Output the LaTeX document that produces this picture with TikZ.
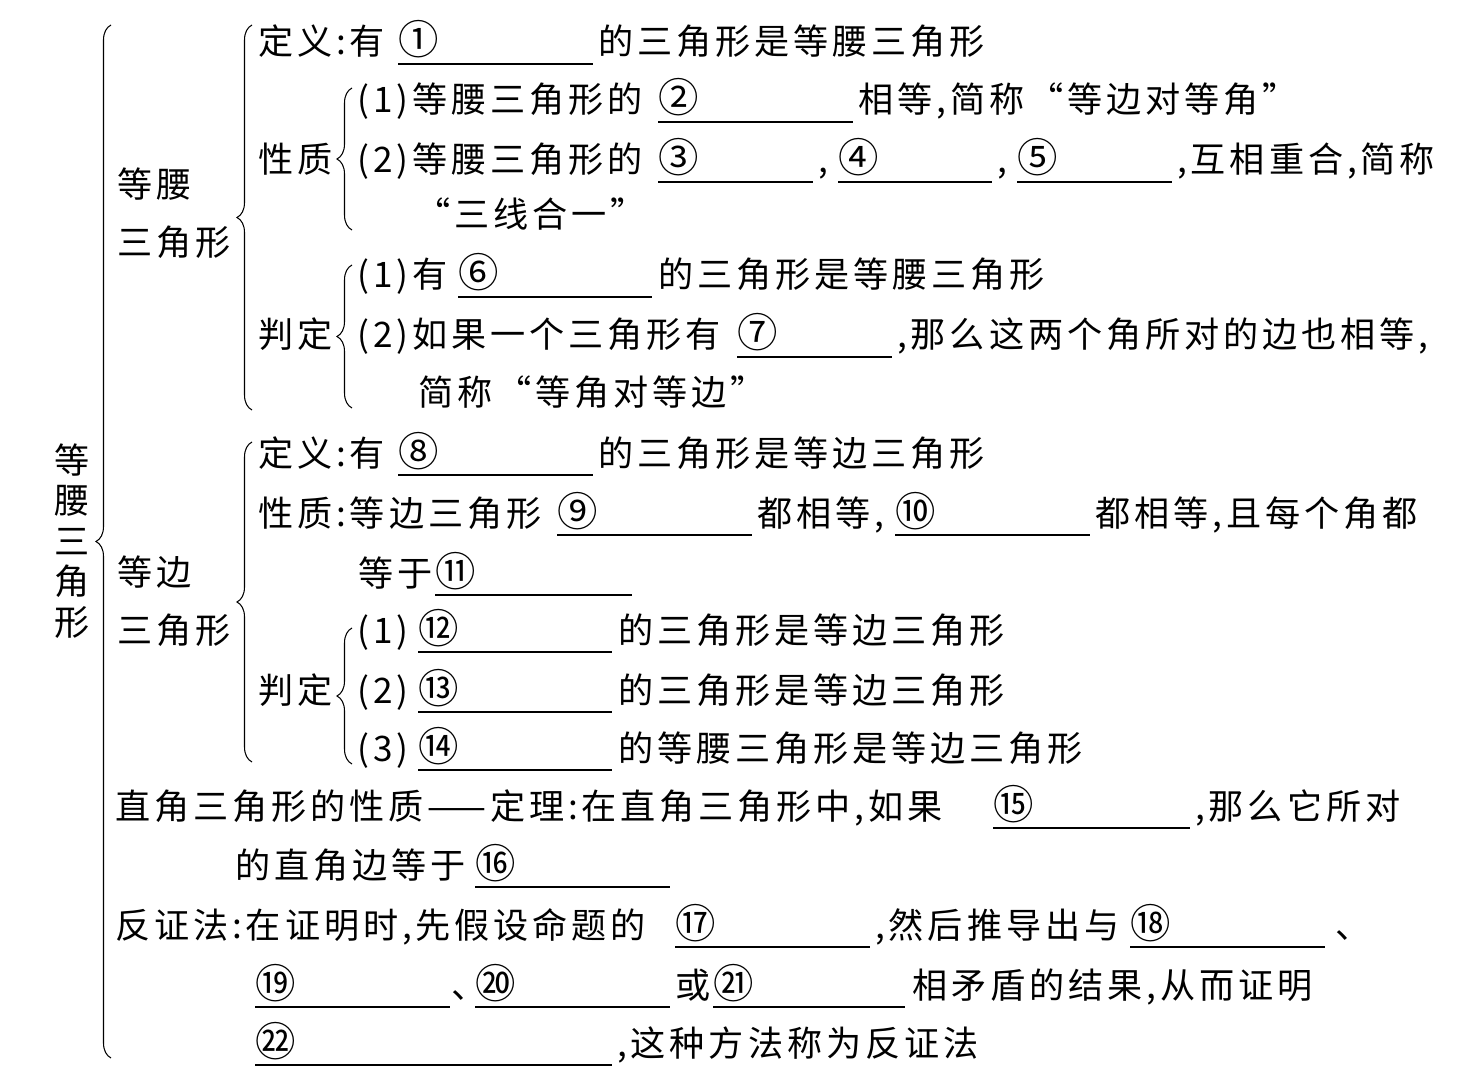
\documentclass[tikz,border=0pt]{standalone}
\usepackage{fontspec}
\setmainfont{Noto Sans CJK SC}[LetterSpace=11]
\usepackage{tikz}
\usetikzlibrary{decorations.pathreplacing}
% one blank: circled number over an underline
\newcommand{\fillin}[5]{%
  \node[num] (#1) at (#2,#4) {#5};
  \draw[blank] (#2,#4+9) -- (#3,#4+9);}

\begin{document}
\begin{tikzpicture}[
  x=0.02cm, y=-0.02cm,
  txt/.style={anchor=base west, inner sep=0pt, font=\fontsize{20}{24}\selectfont},
  num/.style={txt, font=\fontsize{23}{24}\selectfont},
  blank/.style={line width=0.8pt},
  brc/.style={decorate, decoration={brace, amplitude=0.3cm}, line width=0.6pt}
]
\useasboundingbox (0,0) rectangle (1465,1081);
% braces
\draw[brc] (111,1058) -- (111,25);
\draw[brc] (252,410) -- (252,25);
\draw[brc] (352,230) -- (352,88);
\draw[brc] (352,408) -- (352,265);
\draw[brc] (252,762) -- (252,442);
\draw[brc] (352,764) -- (352,628);
% title
\foreach \ch [count=\i] in {等,腰,三,角,形}
  \node[txt, anchor=base] (v\i) at (72,{473+40.5*(\i-1)}) {\ch};
% 等腰三角形
\node[txt] (yb1) at (117,198) {等腰};
\node[txt] (yb2) at (117,256) {三角形};
\node[txt] (d1) at (258,55) {定义:有};
\fillin{c1}{398}{593}{55}{①}
\node[txt] (d1b) at (598,55) {的三角形是等腰三角形};
\node[txt] (p1) at (258,173) {性质};
\node[txt] (p1a) at (357,113) {(1)等腰三角形的};
\fillin{c2}{658}{853}{113}{②}
\node[txt] (p1b) at (858,113) {相等,简称“等边对等角”};
\node[txt] (p2a) at (357,173) {(2)等腰三角形的};
\fillin{c3}{658}{813}{173}{③}
\node[txt] (p2b) at (818,173) {,};
\fillin{c4}{838}{992}{173}{④}
\node[txt] (p2c) at (997,173) {,};
\fillin{c5}{1017}{1172}{173}{⑤}
\node[txt] (p2d) at (1177,173) {,互相重合,简称};
\node[txt] (p2e) at (415,228) {“三线合一”};
\node[txt] (j1) at (258,348) {判定};
\node[txt] (j1a) at (357,288) {(1)有};
\fillin{c6}{458}{652}{288}{⑥}
\node[txt] (j1b) at (658,288) {的三角形是等腰三角形};
\node[txt] (j2a) at (357,348) {(2)如果一个三角形有};
\fillin{c7}{737}{892}{348}{⑦}
\node[txt] (j2b) at (897,348) {,那么这两个角所对的边也相等,};
\node[txt] (j2c) at (418,406) {简称“等角对等边”};
% 等边三角形
\node[txt] (db1) at (117,585) {等边};
\node[txt] (db2) at (117,643) {三角形};
\node[txt] (d2) at (258,466) {定义:有};
\fillin{c8}{398}{593}{466}{⑧}
\node[txt] (d2b) at (598,466) {的三角形是等边三角形};
\node[txt] (p3a) at (258,526) {性质:等边三角形};
\fillin{c9}{557}{752}{526}{⑨}
\node[txt] (p3b) at (757,526) {都相等,};
\fillin{c10}{895}{1090}{526}{⑩}
\node[txt] (p3c) at (1095,526) {都相等,且每个角都};
\node[txt] (p3d) at (358,586) {等于};
\fillin{c11}{435}{632}{586}{⑪}
\node[txt] (j3) at (258,703) {判定};
\node[txt] (j3a) at (357,643) {(1)};
\fillin{c12}{418}{612}{643}{⑫}
\node[txt] (j3b) at (618,643) {的三角形是等边三角形};
\node[txt] (j4a) at (357,703) {(2)};
\fillin{c13}{418}{612}{703}{⑬}
\node[txt] (j4b) at (618,703) {的三角形是等边三角形};
\node[txt] (j5a) at (357,761) {(3)};
\fillin{c14}{418}{612}{761}{⑭}
\node[txt] (j5b) at (618,761) {的等腰三角形是等边三角形};
% 直角三角形
\node[txt] (r1a) at (115,819) {直角三角形的性质——定理:在直角三角形中,如果};
\fillin{c15}{993}{1190}{819}{⑮}
\node[txt] (r1b) at (1195,819) {,那么它所对};
\node[txt] (r1c) at (235,878) {的直角边等于};
\fillin{c16}{475}{670}{878}{⑯}
% 反证法
\node[txt] (f1a) at (115,938) {反证法:在证明时,先假设命题的};
\fillin{c17}{675}{870}{938}{⑰}
\node[txt] (f1b) at (875,938) {,然后推导出与};
\fillin{c18}{1130}{1325}{938}{⑱}
\node[txt] (f1c) at (1335,938) {、};
\fillin{c19}{255}{450}{998}{⑲}
\node[txt] (f2a) at (452,998) {､};
\fillin{c20}{475}{670}{998}{⑳}
\node[txt] (f2b) at (675,998) {或};
\fillin{c21}{713}{905}{998}{㉑}
\node[txt] (f2c) at (912,998) {相矛盾的结果,从而证明};
\fillin{c22}{255}{612}{1056}{㉒}
\node[txt] (f3a) at (617,1056) {,这种方法称为反证法};
\end{tikzpicture}
\end{document}
